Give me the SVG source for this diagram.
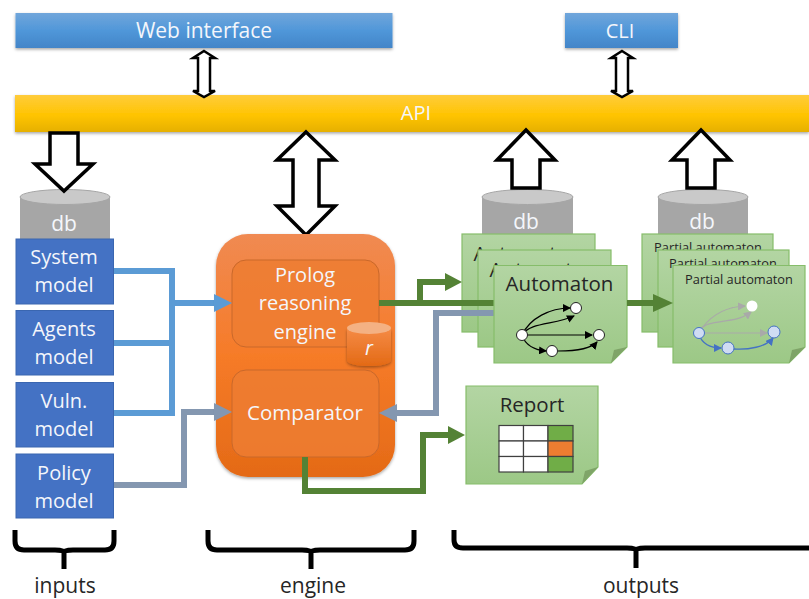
<svg xmlns="http://www.w3.org/2000/svg" width="809" height="599" viewBox="0 0 809 599">
<defs>
<linearGradient id="gBlue" x1="0" y1="0" x2="0" y2="1"><stop offset="0" stop-color="#71a6db"/><stop offset="0.5" stop-color="#5097d9"/><stop offset="1" stop-color="#4385c8"/></linearGradient>
<linearGradient id="gGold" x1="0" y1="0" x2="0" y2="1"><stop offset="0" stop-color="#ffcc3c"/><stop offset="0.55" stop-color="#ffc400"/><stop offset="1" stop-color="#e6b000"/></linearGradient>
<linearGradient id="gOrange" x1="0" y1="0" x2="0" y2="1"><stop offset="0" stop-color="#f08a52"/><stop offset="0.5" stop-color="#f67b28"/><stop offset="1" stop-color="#e46a16"/></linearGradient>
<linearGradient id="gGreen" x1="0" y1="0" x2="0" y2="1"><stop offset="0" stop-color="#b3d5a3"/><stop offset="1" stop-color="#9cc886"/></linearGradient>
<linearGradient id="gCyl" x1="0" y1="0" x2="0" y2="1"><stop offset="0" stop-color="#f58a45"/><stop offset="1" stop-color="#e36a15"/></linearGradient>
<filter id="sh" x="-10%" y="-10%" width="120%" height="125%"><feDropShadow dx="0" dy="1.5" stdDeviation="1.5" flood-color="#000" flood-opacity="0.35"/></filter>
<marker id="ab" markerUnits="userSpaceOnUse" markerWidth="8" markerHeight="8" refX="7" refY="4" orient="auto"><path d="M0 0L8 4L0 8Z" fill="#000"/></marker>
<marker id="ag" markerUnits="userSpaceOnUse" markerWidth="8" markerHeight="8" refX="7" refY="4" orient="auto"><path d="M0 0L8 4L0 8Z" fill="#a9a9a9"/></marker>
<marker id="au" markerUnits="userSpaceOnUse" markerWidth="8" markerHeight="8" refX="7" refY="4" orient="auto"><path d="M0 0L8 4L0 8Z" fill="#4472c4"/></marker>
<style>
text{font-family:"Open Sans","Noto Sans","Liberation Sans",sans-serif;text-anchor:middle}
.w{fill:#f4f6fb}.k{fill:#262626}
.bar{filter:url(#sh)}
.big{fill:#fff;stroke:#000;stroke-width:3.5;stroke-linejoin:miter}
.thin{fill:#fff;stroke:#000;stroke-width:2.5}
.cb{fill:#a6a6a6}.ct{fill:#c9c9c9;stroke:#a6a6a6;stroke-width:1}
.model{fill:#4472c4;stroke:#3a66b0;stroke-width:1}
.doc{fill:url(#gGreen);stroke:#86bd6a;stroke-width:1.2}
.fold{fill:#7fa468}
.inner{fill:#ed7d31;stroke:#c9682a;stroke-width:1;fill-opacity:.85}
.c{fill:none;stroke-width:6}
.lb{stroke:#5b9bd5}.lg{stroke:#8497b0}.lv{stroke:#548235}
.hb{fill:#5b9bd5}.hg{fill:#8497b0}.hv{fill:#548235}
.brace{fill:none;stroke:#000;stroke-width:5;stroke-linejoin:round}
.n{fill:#fff;stroke:#222;stroke-width:1}
.e{fill:none;stroke:#000;stroke-width:1.2}
.pn{fill:#cfdcf3;stroke:#4472c4;stroke-width:1}
.pe{fill:none;stroke:#a9a9a9;stroke-width:1.2}
.pu{fill:none;stroke:#4472c4;stroke-width:1.3}
.cell{fill:#fff;stroke:#404040;stroke-width:1.2}
</style>
</defs>

<g id="node-db-inputs"><rect class="cb" x="20" y="196" width="90" height="46"/><ellipse class="ct" cx="65" cy="197" rx="45" ry="7.500"/><text class="w" x="64" y="231" font-size="21">db</text></g>
<g id="node-db-automata"><rect class="cb" x="482" y="196" width="91" height="46"/><ellipse class="ct" cx="527.500" cy="197" rx="45.500" ry="7.500"/><text class="w" x="526" y="229" font-size="21">db</text></g>
<g id="node-db-partial"><rect class="cb" x="658" y="196" width="90" height="46"/><ellipse class="ct" cx="703" cy="197" rx="45" ry="7.500"/><text class="w" x="702" y="229" font-size="21">db</text></g>

<g id="node-web"><rect class="bar" x="15.500" y="13" width="377" height="35" fill="url(#gBlue)"/><text class="w" x="204" y="38" font-size="21">Web interface</text></g>
<g id="node-cli"><rect class="bar" x="565" y="13" width="113" height="35" fill="url(#gBlue)"/><text class="w" x="620" y="38" font-size="20">CLI</text></g>
<g id="node-api"><rect class="bar" x="15" y="95" width="794" height="37" fill="url(#gGold)"/><text class="w" x="416" y="120" font-size="20">API</text></g>

<g id="connectors">
<path class="thin" d="M204 51L215 58H210V91H215L204 97L193 91H198V58H193Z"/>
<path class="thin" d="M622 51L633 58H628V91H633L622 97L611 91H616V58H611Z"/>
<path class="big" d="M50 133H78V164H93L64 191L35 164H50Z"/>
<path class="big" d="M306 132L335 160H319V206H335L306 235L277 206H293V160H277Z"/>
<path class="big" d="M526 130L555 160H540V188H512V160H497Z"/>
<path class="big" d="M701 130L730 160H715V188H687V160H672Z"/>
<path class="c lb" d="M113 271H172V413H113M113 343H172M172 303H216"/>
<path class="c lg" d="M113 485H184V412H216"/>
</g>

<g id="node-engine"><rect x="216" y="234" width="179" height="243" rx="32" fill="url(#gOrange)" filter="url(#sh)"/></g>
<g id="node-prolog"><rect class="inner" x="232" y="260" width="147" height="87" rx="14"/><text class="w" x="305" y="282" font-size="20">Prolog</text><text class="w" x="305" y="310" font-size="20">reasoning</text><text class="w" x="305" y="339" font-size="20">engine</text></g>
<g id="node-r"><path d="M347 329V360C347 368 391 368 391 360V329Z" fill="url(#gCyl)" filter="url(#sh)"/><ellipse cx="369" cy="328" rx="22" ry="6" fill="#f4b183"/><text class="w" x="369" y="355" font-size="20" font-style="italic">r</text></g>
<g id="node-comparator"><rect class="inner" x="232" y="370" width="147" height="87" rx="14"/><text class="w" x="305" y="420" font-size="20.500">Comparator</text></g>

<g id="node-system"><rect class="model" x="16" y="239" width="97.500" height="65"/><text class="w" x="64" y="264" font-size="20">System</text><text class="w" x="64" y="292" font-size="20">model</text></g>
<g id="node-agents"><rect class="model" x="16" y="310.500" width="97.500" height="64.500"/><text class="w" x="64" y="336" font-size="20">Agents</text><text class="w" x="64" y="364" font-size="20">model</text></g>
<g id="node-vuln"><rect class="model" x="16" y="382.500" width="97.500" height="64.500"/><text class="w" x="64" y="408" font-size="20">Vuln.</text><text class="w" x="64" y="436" font-size="20">model</text></g>
<g id="node-policy"><rect class="model" x="16" y="454" width="97.500" height="64"/><text class="w" x="64" y="480" font-size="20">Policy</text><text class="w" x="64" y="508" font-size="20">model</text></g>

<g id="node-automata-back">
<rect class="doc" x="462" y="234" width="133" height="98"/><text class="k" x="527.500" y="261" font-size="20.500">Automaton</text>
<rect class="doc" x="478" y="250" width="133" height="97"/><text class="k" x="543.500" y="277" font-size="20.500">Automaton</text>
</g>
<g id="node-partial-back">
<rect class="doc" x="642" y="234" width="131" height="98"/><text class="k" x="708" y="252" font-size="12.800">Partial automaton</text>
<rect class="doc" x="658" y="250" width="131" height="97"/><text class="k" x="723" y="268" font-size="12.800">Partial automaton</text>
</g>

<g id="connectors-right">
<path class="hb" d="M214 294L232 303L214 312Z"/>
<path class="hg" d="M214 403L232 412L214 421Z"/>
<path class="c lv" d="M379 303H494M420 303V282H447"/>
<path class="hv" d="M445 273L462 282L445 291Z"/>
<path class="c lg" d="M494 313H436V413H396"/>
<path class="hg" d="M397 404L379 413L397 422Z"/>
<path class="c lv" d="M305 457V491H423V435H450"/>
<path class="hv" d="M448 426L465 435L448 444Z"/>
</g>

<g id="node-automaton">
<path class="doc" d="M494 265.500H627V347L611 363H494Z"/><path class="fold" d="M611 363L614 350L627 347Z"/>
<text class="k" x="559.500" y="291" font-size="20.500">Automaton</text>
<path class="e" marker-end="url(#ab)" d="M522 335C530 318 550 308 570 308"/>
<path class="e" marker-end="url(#ab)" d="M522 335C530 322 555 325 574 316"/>
<path class="e" marker-end="url(#ab)" d="M522 335H592"/>
<path class="e" marker-end="url(#ab)" d="M522 335C525 345 535 350 546 351"/>
<path class="e" marker-end="url(#ab)" d="M558 351C570 351 590 350 597 342"/>
<circle class="n" cx="522" cy="335" r="5.500"/><circle class="n" cx="576" cy="308" r="5.500"/><circle class="n" cx="599" cy="335" r="5.500"/><circle class="n" cx="552" cy="351" r="5.500"/>
</g>

<g id="node-partial">
<path class="doc" d="M673 265.500H805V347L789 363H673Z"/><path class="fold" d="M789 363L792 350L805 347Z"/>
<text class="k" x="739" y="284" font-size="12.800">Partial automaton</text>
<path class="pe" marker-end="url(#ag)" d="M703 327C712 315 725 307 745 306"/>
<path class="pe" marker-end="url(#ag)" d="M700 330C708 318 735 325 751 312"/>
<path class="pe" marker-end="url(#ag)" d="M699 333H767"/>
<path class="pu" marker-end="url(#au)" d="M699 335C703 345 712 348 721 348"/>
<path class="pu" marker-end="url(#au)" d="M734 349C748 350 766 347 773 338"/>
<circle cx="752" cy="306" r="5.500" fill="#fff"/><circle class="pn" cx="699" cy="333" r="5.500"/><circle class="pn" cx="774" cy="332" r="6"/><circle class="pn" cx="728" cy="348" r="6"/>
</g>

<g id="connector-partial"><path class="c lv" d="M627 303H656"/><path class="hv" d="M653 294L673 303L653 312Z"/></g>

<g id="node-report">
<path class="doc" d="M466 386H598V467L582 484H466Z"/><path class="fold" d="M582 484L585 471L598 467Z"/>
<text class="k" x="532" y="412" font-size="20.500">Report</text>
<rect class="cell" x="499" y="425.500" width="24.500" height="15.500"/><rect class="cell" x="523.500" y="425.500" width="24.500" height="15.500"/><rect class="cell" x="548" y="425.500" width="25" height="15.500" style="fill:#70ad47"/>
<rect class="cell" x="499" y="441" width="24.500" height="15.500"/><rect class="cell" x="523.500" y="441" width="24.500" height="15.500"/><rect class="cell" x="548" y="441" width="25" height="15.500" style="fill:#ed7d31"/>
<rect class="cell" x="499" y="456.500" width="24.500" height="15.500"/><rect class="cell" x="523.500" y="456.500" width="24.500" height="15.500"/><rect class="cell" x="548" y="456.500" width="25" height="15.500" style="fill:#70ad47"/>
</g>

<g id="node-inputs"><path class="brace" d="M15 530V541Q15 550 24 550H55Q64 550 64 552V569M114 530V541Q114 550 105 550H73Q64 550 64 552"/><text class="k" x="65" y="593" font-size="21">inputs</text></g>
<g id="node-engine-label"><path class="brace" d="M208 530V541Q208 550 217 550H302Q311 550 311 552V569M414 530V541Q414 550 405 550H320Q311 550 311 552"/><text class="k" x="313" y="593" font-size="21">engine</text></g>
<g id="node-outputs"><path class="brace" d="M454 530V540Q454 548 463 548H627Q636 548 636 550V568M809 548H645Q636 548 636 550"/><text class="k" x="641" y="593" font-size="21">outputs</text></g>
</svg>
